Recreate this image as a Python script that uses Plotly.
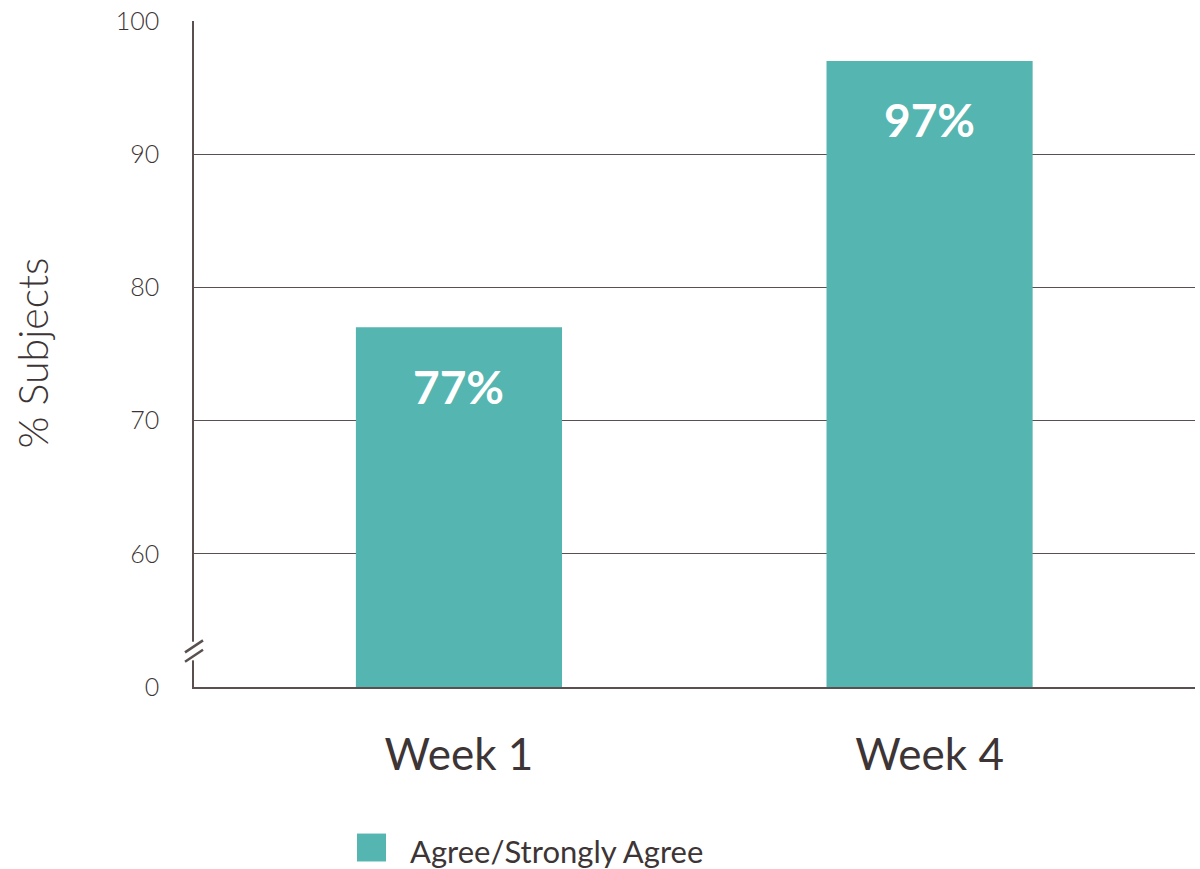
import plotly.graph_objects as go

categories = ["Week 1", "Week 4"]
values = [77, 97]
bar_labels = ["77%", "97%"]
series_name = "Agree/Strongly Agree"
tick_vals = [50, 60, 70, 80, 90, 100]
tick_text = ["0", "60", "70", "80", "90", "100"]
axis_break_base = 50  # the broken axis starts here (shown as 0)

TEAL = "#55B5B0"
DARK = "#3D3535"
LINE = "#5a5050"
FONT = "Lato"

x_pos = list(range(len(categories)))

fig = go.Figure()
fig.add_trace(go.Bar(
    x=x_pos,
    y=[v - axis_break_base for v in values],
    base=axis_break_base,
    width=0.438,
    marker=dict(color=TEAL, line=dict(width=0)),
    name=series_name,
    showlegend=False,
))

annotations = []
for xi, v, lab in zip(x_pos, values, bar_labels):
    annotations.append(dict(
        x=xi, y=v, xref="x", yref="y", text=lab, showarrow=False,
        yanchor="middle", yshift=-59,
        font=dict(family=FONT, size=46, color="white", weight="bold"),
    ))

annotations.append(dict(
    text="% Subjects", textangle=-90,
    xref="paper", yref="paper", x=-0.161, y=0.502,
    xanchor="center", yanchor="middle", showarrow=False,
    font=dict(family=FONT, size=41, color=DARK, weight=300),
))
# legend text
annotations.append(dict(
    text=series_name, xref="paper", yref="paper",
    x=(408 - 194) / 1001, y=-(851 - 687) / 668,
    xanchor="left", yanchor="middle", showarrow=False,
    font=dict(family=FONT, size=31, color=DARK),
))

fig.update_layout(
    width=1200, height=869,
    margin=dict(l=194, r=5, t=19, b=182),
    paper_bgcolor="white", plot_bgcolor="white",
    font=dict(family=FONT, color=DARK),
    showlegend=False,
    xaxis=dict(
        range=[-0.563, 1.564],
        tickvals=x_pos, ticktext=categories,
        tickfont=dict(family=FONT, size=44, color=DARK),
        showgrid=False, zeroline=False,
        showline=True, linecolor=LINE, linewidth=1.5,
        ticks="", ticklabelstandoff=28,
    ),
    yaxis=dict(
        range=[axis_break_base, 100],
        tickvals=tick_vals, ticktext=tick_text,
        tickfont=dict(family=FONT, size=25, color=DARK, weight=300),
        showgrid=True, gridcolor=LINE, gridwidth=1,
        zeroline=False,
        showline=True, linecolor=LINE, linewidth=1.5,
        ticks="", ticklabelstandoff=28,
    ),
    annotations=annotations,
    shapes=[
        dict(type="rect", xref="paper", yref="y", x0=-0.008, x1=0.008, y0=52.0, y1=53.4,
             fillcolor="white", line=dict(width=0), layer="above"),
        dict(type="line", xref="paper", yref="y", x0=-0.009, x1=0.009, y0=51.9, y1=52.8,
             line=dict(color=LINE, width=2.5), layer="above"),
        dict(type="line", xref="paper", yref="y", x0=-0.009, x1=0.009, y0=52.6, y1=53.5,
             line=dict(color=LINE, width=2.5), layer="above"),
        # legend swatch
        dict(type="rect", xref="paper", yref="paper",
             x0=(357 - 194) / 1001, x1=(386 - 194) / 1001,
             y0=-(862 - 687) / 668, y1=-(834 - 687) / 668,
             fillcolor=TEAL, line=dict(width=0)),
    ],
)

fig.write_html(
    "out.html",
    config={"displayModeBar": False},
    post_script="document.body.style.margin='0';document.body.style.overflow='hidden';",
)
